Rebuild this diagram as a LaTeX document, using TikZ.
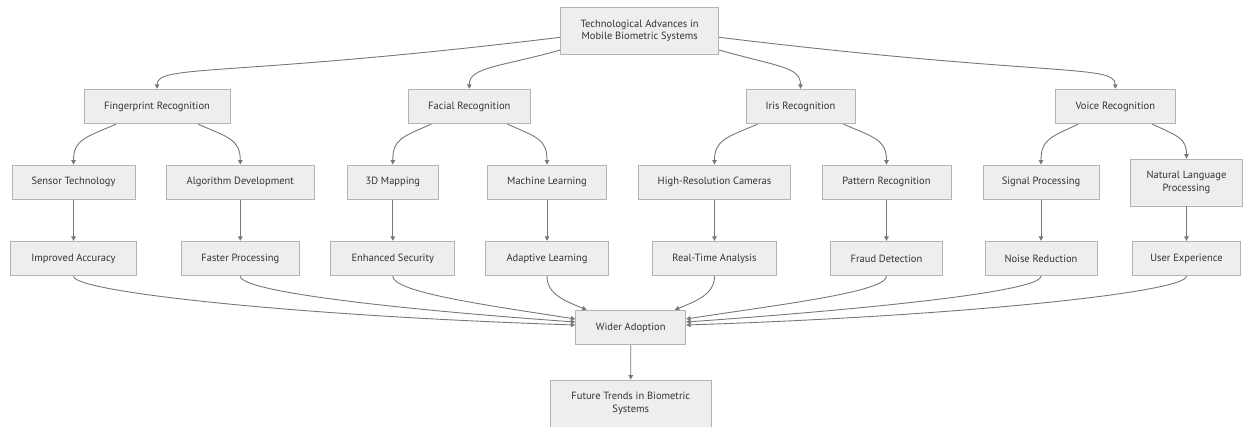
\documentclass[tikz,border=0pt]{standalone}
\usepackage{fontspec}
\setmainfont{PT Sans}
\usetikzlibrary{arrows.meta}
\definecolor{boxfill}{HTML}{EEEEEE}
\definecolor{boxline}{HTML}{B4B4B4}
\definecolor{linecol}{HTML}{777777}
\definecolor{txtcol}{HTML}{333333}
\tikzset{
  box/.style={draw=boxline, fill=boxfill, text=txtcol, line width=0.8pt,
    font=\fontsize{10.5}{12.5}\selectfont, align=center, inner sep=0pt,
    minimum height=34.5},
  tall/.style={minimum height=47},
  edge/.style={draw=linecol, line width=0.9pt, -{Triangle[length=4.5pt,width=4.5pt]}}
}
\begin{document}
\begin{tikzpicture}[x=1pt,y=-1pt]
  \useasboundingbox (0,0) rectangle (1243,426);
  % root
  \node [box,tall,minimum width=158] (root) at (639.7,30.7) {Technological Advances in\\Mobile Biometric Systems};
  % recognition types
  \node [box,minimum width=146] (fp) at (157,106.5) {Fingerprint Recognition};
  \node [box,minimum width=122.7] (fr) at (469.3,106.5) {Facial Recognition};
  \node [box,minimum width=109] (ir) at (800.5,106.5) {Iris Recognition};
  \node [box,minimum width=120.7] (vr) at (1115.3,106.5) {Voice Recognition};
  % technologies
  \node [box,minimum width=123] (st) at (73.5,182.2) {Sensor Technology};
  \node [box,minimum width=147.3] (ad) at (240.3,182.2) {Algorithm Development};
  \node [box,minimum width=91] (dm) at (392.8,182.2) {3D Mapping};
  \node [box,minimum width=119.4] (ml) at (547,182.2) {Machine Learning};
  \node [box,minimum width=152.4] (hr) at (714.5,182.2) {High-Resolution Cameras};
  \node [box,minimum width=129] (pr) at (886.5,182.2) {Pattern Recognition};
  \node [box,minimum width=116] (sp) at (1041,182.2) {Signal Processing};
  \node [box,tall,minimum width=112.5] (nlp) at (1186.5,182.5) {Natural Language\\Processing};
  % benefits
  \node [box,minimum width=126.7] (ia) at (73.5,258.5) {Improved Accuracy};
  \node [box,minimum width=117.3] (fpr) at (240.3,258.5) {Faster Processing};
  \node [box,minimum width=124] (es) at (392.8,258.5) {Enhanced Security};
  \node [box,minimum width=122.6] (al) at (547,258.5) {Adaptive Learning};
  \node [box,minimum width=123.4] (rta) at (714.5,258.5) {Real-Time Analysis};
  \node [box,minimum width=112.7] (fd) at (886.5,258.5) {Fraud Detection};
  \node [box,minimum width=112] (nr) at (1041,258.5) {Noise Reduction};
  \node [box,minimum width=108.5] (ue) at (1186.5,258.5) {User Experience};
  % outcome
  \node [box,minimum width=110] (wa) at (630.7,327.5) {Wider Adoption};
  \node [box,tall,minimum width=160.3] (ft) at (630.8,403.5) {Future Trends in Biometric\\Systems};

  % root to recognition types
  \draw [edge] ([yshift=-6.6pt]root.west) .. controls +(-330,40) and +(0,-25) .. (fp.north);
  \draw [edge] ([yshift=-19.3pt]root.west) .. controls +(-60,17) and +(0,-22) .. (fr.north);
  \draw [edge] ([yshift=-19.3pt]root.east) .. controls +(60,17) and +(0,-22) .. (ir.north);
  \draw [edge] ([yshift=-6.6pt]root.east) .. controls +(330,40) and +(0,-25) .. (vr.north);
  % recognition types to technologies
  \draw [edge] ([xshift=-41pt]fp.south) .. controls +(-30,13) and +(0,-25) .. (st.north);
  \draw [edge] ([xshift=41pt]fp.south) .. controls +(30,13) and +(0,-25) .. (ad.north);
  \draw [edge] ([xshift=-38pt]fr.south) .. controls +(-30,13) and +(0,-25) .. (dm.north);
  \draw [edge] ([xshift=38pt]fr.south) .. controls +(30,13) and +(0,-25) .. (ml.north);
  \draw [edge] ([xshift=-43pt]ir.south) .. controls +(-30,13) and +(0,-25) .. (hr.north);
  \draw [edge] ([xshift=43pt]ir.south) .. controls +(30,13) and +(0,-25) .. (pr.north);
  \draw [edge] ([xshift=-37pt]vr.south) .. controls +(-28,13) and +(0,-25) .. (sp.north);
  \draw [edge] ([xshift=37pt]vr.south) .. controls +(26,12) and +(0,-20) .. (nlp.north);
  % technologies to benefits
  \draw [edge] (st) -- (ia);
  \draw [edge] (ad) -- (fpr);
  \draw [edge] (dm) -- (es);
  \draw [edge] (ml) -- (al);
  \draw [edge] (hr) -- (rta);
  \draw [edge] (pr) -- (fd);
  \draw [edge] (sp) -- (nr);
  \draw [edge] (nlp) -- (ue);
  % benefits to adoption
  \draw [edge] (ia.south) .. controls +(0,16) and +(-276,-9) .. ([yshift=2.5pt]wa.west);
  \draw [edge] (fpr.south) .. controls +(0,16) and +(-170,-12) .. ([yshift=5.5pt]wa.west);
  \draw [edge] (es.south) .. controls +(0,16) and +(-90,-14) .. ([yshift=8.5pt]wa.west);
  \draw [edge] (al.south) .. controls +(0,18) and +(-22,-9) .. ([xshift=-44pt]wa.north);
  \draw [edge] (rta.south) .. controls +(0,18) and +(22,-9) .. ([xshift=44pt]wa.north);
  \draw [edge] (fd.south) .. controls +(0,16) and +(90,-14) .. ([yshift=8.5pt]wa.east);
  \draw [edge] (nr.south) .. controls +(0,16) and +(170,-12) .. ([yshift=5.5pt]wa.east);
  \draw [edge] (ue.south) .. controls +(0,16) and +(276,-9) .. ([yshift=2.5pt]wa.east);
  \draw [edge] (wa) -- (ft);
\end{tikzpicture}
\end{document}
